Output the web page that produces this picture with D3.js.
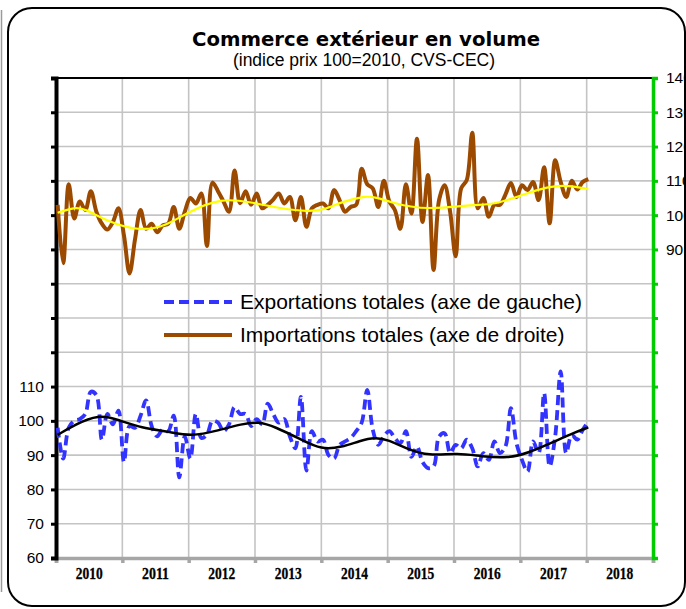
<!DOCTYPE html>
<html><head><meta charset="utf-8">
<script src="https://cdn.jsdelivr.net/npm/d3@7"></script>
<style>html,body{margin:0;padding:0;background:#fff;}svg{display:block;}</style>
</head><body>
<svg id="c" width="686" height="609"></svg>
<script>
// ---- data ----
const years = [2010, 2011, 2012, 2013, 2014, 2015, 2016, 2017, 2018];
const leftTickLabels = [60, 70, 80, 90, 100, 110];
const rightTickLabels = [90, 100, 110, 120, 130, 140];
// monthly, Jan 2010 .. Jan 2018
const exportsTotal = [98,89,98,100,100.5,102,108.5,107.5,94.5,102,99,103,
  88,98.5,98,101.5,106,98.5,95.5,97.5,97,101.5,83.5,95.5,
  89,102,95,96,100,99.5,97,99,104,102,102,98.5,
  100.5,99,105,102,99.5,100.5,95.5,92,107,85.5,97,94,
  94.5,90,89,93,94,95,97,99.5,109,97.5,93,95.5,
  97,95,93.5,97,89.5,92.5,88,86.2,86.7,95.4,96.4,90.6,
  93,92,94.5,92,86.7,90.6,88.6,94,90.6,92.5,103.7,93.5,
  88.6,85.2,94,90.6,108.1,86.7,95.4,114.4,90.6,95.9,94.5,97.4,
  99.8];
const importsTotal = [103,86,109,99,104,101.5,107,101,97.5,95.8,98,102,
  94,83,93,101.5,96,97.5,95,97,97.5,102.4,96,101,
  105,103.4,106.3,91,109.5,107,104,101,113,103.5,107,103,
  106.3,102,103,104.5,106.3,103.4,105.3,98.5,105.3,96.6,102,103,
  103.4,102,107.3,104.4,101,102.4,103,113.5,109,107.8,102.4,110,
  104,101.5,96,109,100.5,122.3,98,111.7,84,104.4,108.7,101,
  88,107.8,110.2,124,102,105,99.5,103,103,106,109.4,105.3,
  108.7,107.3,109.7,104.4,114,97.6,116,109.7,105.3,110,107.5,109.7,
  110.5];
// trend lines (month index, value)
const exportsTrendMonths = [0,3,7.4,11,15.2,20,24.2,29.1,33.3,36.3,39.3,44.1,47.7,51.4,54.7,57.4,59.8,63.4,67,72.5,76.7,81.5,85.1,89.9,93.5,96];
const exportsTrendValues = [95.9,98.8,101.9,100.3,97.9,96.9,95.4,97.2,99.1,99.8,98.3,94.5,91.6,92.3,94.2,95.2,94.5,91.7,89.8,90.6,89.6,89.1,90.6,94,96.6,98.1];
const importsTrendMonths = [0,3.1,4.9,9.2,14.6,19.4,23.6,29.7,34.5,40.5,45.3,48.3,51.4,55.6,57.4,61,66.4,75.5,79.1,83.9,88.7,92.3,96];
const importsTrendValues = [100.7,102.3,101.9,98,95.4,96.6,101,105,103.9,101.9,101,101.6,103.9,105.6,105.3,103.4,101.5,103.1,103.1,105.8,108.4,108.7,107.6];

// ---- layout ----
const svg = d3.select("#c");
const L = 56, R = 653, T = 78, B = 558;
const x = d3.scaleLinear().domain([0, 108]).range([L, R]);
const yL = d3.scaleLinear().domain([60, 200]).range([B, T]);
const yR = d3.scaleLinear().domain([0, 140]).range([B, T]);
const mx = i => x(i + 0.3);

// page artifacts / outer frame
svg.append("line").attr("x1", 1.5).attr("x2", 1.5).attr("y1", 10).attr("y2", 592)
  .attr("stroke", "#9a9a9a").attr("stroke-width", 1.5);
svg.append("rect").attr("x", 8).attr("y", 8).attr("width", 677).attr("height", 598)
  .attr("rx", 24).attr("fill", "#fff").attr("stroke", "#000").attr("stroke-width", 2);

// title
svg.append("text").attr("x", 366).attr("y", 46).attr("text-anchor", "middle")
  .attr("font-family", "DejaVu Sans").attr("font-weight", "bold").attr("font-size", 20)
  .attr("textLength", 348).attr("lengthAdjust", "spacingAndGlyphs")
  .text("Commerce extérieur en volume");
svg.append("text").attr("x", 364).attr("y", 66).attr("text-anchor", "middle")
  .attr("font-family", "Liberation Sans, Arial").attr("font-size", 17.5)
  .text("(indice prix 100=2010, CVS-CEC)");

// gridlines
const g = svg.append("g");
g.selectAll(".hg").data(d3.range(60, 201, 10)).join("line")
  .attr("x1", L).attr("x2", R).attr("y1", d => yL(d)).attr("y2", d => yL(d))
  .attr("stroke", "#c4c4c4").attr("stroke-width", 1.6);
g.selectAll(".vg").data(d3.range(12, 108, 12)).join("line")
  .attr("x1", d => x(d)).attr("x2", d => x(d)).attr("y1", T).attr("y2", B)
  .attr("stroke", "#c4c4c4").attr("stroke-width", 1.6);

// top frame line
svg.append("line").attr("x1", L).attr("x2", R).attr("y1", T).attr("y2", T)
  .attr("stroke", "#000").attr("stroke-width", 2);

// bottom axis
const xAxis = d3.axisBottom(x).tickValues(d3.range(0, 109, 12)).tickSize(5).tickFormat("");
const gx = svg.append("g").attr("transform", `translate(0,${B})`).call(xAxis);
gx.select(".domain").attr("stroke", "#a6a6a6").attr("stroke-width", 3.5);
gx.selectAll(".tick line").attr("stroke", "#a6a6a6").attr("stroke-width", 3.5);
svg.selectAll(".yr").data(years).join("text")
  .attr("x", (d, i) => x(i * 12 + 6)).attr("y", 579).attr("text-anchor", "middle")
  .attr("font-family", "Liberation Serif, Times New Roman").attr("font-weight", "bold")
  .attr("font-size", 17).attr("textLength", 27).attr("lengthAdjust", "spacingAndGlyphs")
  .attr("stroke", "#000").attr("stroke-width", 0.3)
  .text(d => d);

// left axis
const yAxisL = d3.axisLeft(yL).tickValues(d3.range(60, 201, 10)).tickSize(5)
  .tickFormat(d => leftTickLabels.includes(d) ? d : "");
const gl = svg.append("g").attr("transform", `translate(${L},0)`).call(yAxisL);
gl.select(".domain").attr("stroke", "#000").attr("stroke-width", 4);
gl.selectAll(".tick line").attr("stroke", "#000").attr("stroke-width", 3);
gl.selectAll(".tick text").attr("font-family", "Liberation Sans, Arial").attr("font-size", 15.5)
  .attr("fill", "#000").attr("x", -12);

// right axis
const yAxisR = d3.axisRight(yR).tickValues(d3.range(0, 141, 10)).tickSize(5)
  .tickFormat(d => rightTickLabels.includes(d) ? d : "");
const gr = svg.append("g").attr("transform", `translate(${R},0)`).call(yAxisR);
gr.select(".domain").attr("stroke", "#00cc00").attr("stroke-width", 3.5);
gr.selectAll(".tick line").attr("stroke", "#00cc00").attr("stroke-width", 3);
gr.selectAll(".tick text").attr("font-family", "Liberation Sans, Arial").attr("font-size", 15.5)
  .attr("fill", "#000").attr("x", 13);

// series
const curve = d3.curveCatmullRom.alpha(0.5);
const lineImp = d3.line().x((d, i) => mx(i)).y(d => yR(d)).curve(curve);
const lineExp = d3.line().x((d, i) => mx(i)).y(d => yL(d)).curve(curve);

svg.append("path").attr("d", lineImp(importsTotal)).attr("fill", "none")
  .attr("stroke", "#9c4a00").attr("stroke-width", 4).attr("stroke-linejoin", "round");
svg.append("path").attr("d", d3.line().x(d => mx(d[0])).y(d => yR(d[1])).curve(d3.curveBasis)(
    importsTrendMonths.map((m, i) => [m, importsTrendValues[i]])))
  .attr("fill", "none").attr("stroke", "#ffff00").attr("stroke-width", 2.2);

svg.append("path").attr("d", lineExp(exportsTotal)).attr("fill", "none")
  .attr("stroke", "#3333ff").attr("stroke-width", 3.8).attr("stroke-dasharray", "10,5");
svg.append("path").attr("d", d3.line().x(d => mx(d[0])).y(d => yL(d[1])).curve(d3.curveBasis)(
    exportsTrendMonths.map((m, i) => [m, exportsTrendValues[i]])))
  .attr("fill", "none").attr("stroke", "#000").attr("stroke-width", 2.5);

// legend
const legend = [
  {label: "Exportations totales (axe de gauche)", color: "#3333ff", dash: "10,5", w: 3.8, y: 302},
  {label: "Importations totales (axe de droite)", color: "#9c4a00", dash: null, w: 4, y: 335}
];
legend.forEach(d => {
  svg.append("line").attr("x1", 164).attr("x2", 232).attr("y1", d.y).attr("y2", d.y)
    .attr("stroke", d.color).attr("stroke-width", d.w).attr("stroke-dasharray", d.dash);
  svg.append("text").attr("x", 240).attr("y", d.y + 7).attr("font-family", "Liberation Sans, Arial")
    .attr("font-size", 21).text(d.label);
});
</script>
</body></html>
